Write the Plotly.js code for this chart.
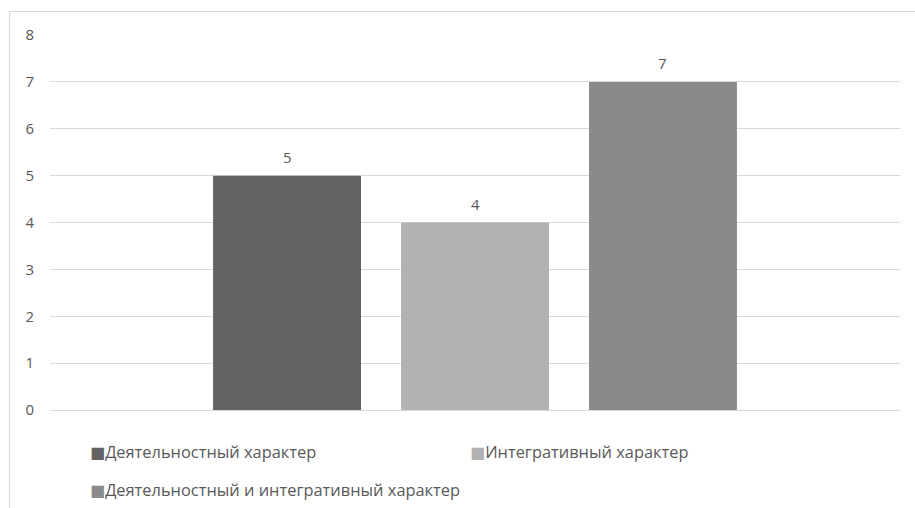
<!DOCTYPE html>
<html><head><meta charset="utf-8">
<script src="https://cdn.plot.ly/plotly-3.0.1.min.js"></script>
<style>
html,body{margin:0;padding:0;background:#fff;}
#wrap{position:relative;width:915px;height:508px;overflow:hidden;}
#frame{position:absolute;left:9px;top:11px;width:920px;height:520px;border:1px solid #d9d9d9;box-sizing:border-box;pointer-events:none;}
#chart{position:absolute;left:0;top:0;width:915px;height:508px;}
</style></head>
<body><div id="wrap"><div id="chart"></div><div id="frame"></div></div>
<script>
var seriesNames = ["Деятельностный характер", "Интегративный характер", "Деятельностный и интегративный характер"];
var seriesValues = [5, 4, 7];
var seriesColors = ["#636365", "#b2b2b5", "#8a8a8d"];
var yTicks = [0, 1, 2, 3, 4, 5, 6, 7, 8];

var txt = "#595959";
var traces = seriesNames.map(function(n, i){
  return {type:"bar", name:n, x:[n], y:[seriesValues[i]], marker:{color:seriesColors[i]},
          hoverinfo:"none", showlegend:false};
});

var annotations = seriesNames.map(function(n, i){
  return {xref:"x", yref:"y", x:n, y:seriesValues[i], text:String(seriesValues[i]),
          showarrow:false, yanchor:"bottom", yshift:7, font:{family:"Open Sans", size:15, color:txt}};
});
var legendPos = [[0.0442, -0.111], [0.4912, -0.111], [0.0442, -0.2133]];
seriesNames.forEach(function(n, i){
  annotations.push({xref:"paper", yref:"paper", x:legendPos[i][0], y:legendPos[i][1],
    xanchor:"left", yanchor:"middle", showarrow:false,
    text:'<span style="color:'+seriesColors[i]+';font-size:16px;font-family:DejaVu Sans">■</span>'+n,
    font:{family:"Open Sans", size:16.4, color:txt}});
});

var layout = {
  width:915, height:508,
  margin:{l:50, r:15, t:35, b:98},
  paper_bgcolor:"#fff", plot_bgcolor:"#fff",
  barmode:"overlay", bargap:0.213,
  showlegend:false,
  xaxis:{type:"category", range:[-1.261, 3.261], showticklabels:false, showgrid:false,
         zeroline:false, showline:false, ticks:"", fixedrange:true},
  yaxis:{range:[0, 8], tickvals:yTicks, showgrid:true, gridcolor:"#d9d9d9", gridwidth:1,
         zeroline:true, zerolinecolor:"#d9d9d9", zerolinewidth:1, showline:false, ticks:"",
         ticklabelstandoff:15, tickfont:{family:"Open Sans", size:15, color:txt}},
  annotations:annotations
};
Plotly.newPlot("chart", traces, layout, {displayModeBar:false, staticPlot:true});
</script></body></html>
